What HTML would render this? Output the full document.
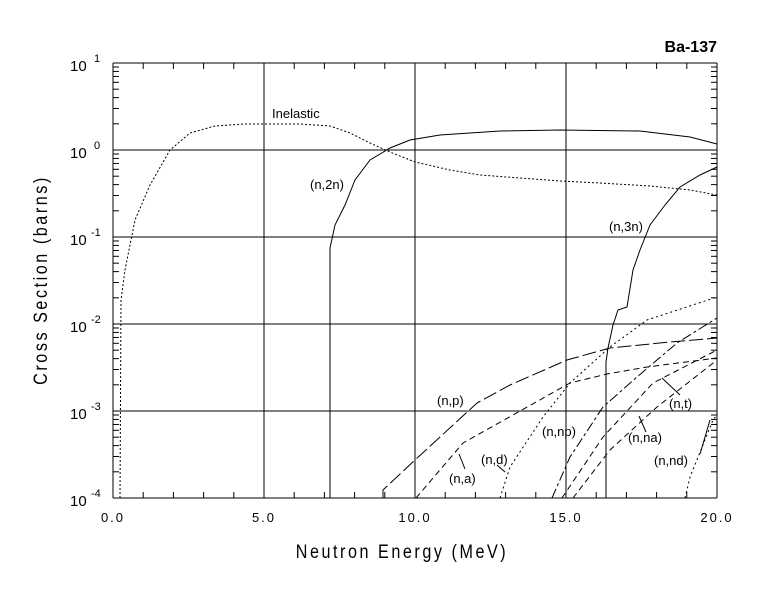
<!DOCTYPE html>
<html><head><meta charset="utf-8"><style>
body{margin:0;background:#fff}
svg text{font-family:"Liberation Sans",sans-serif;fill:#000}
</style></head><body>
<svg id="s" width="780" height="590" xmlns="http://www.w3.org/2000/svg">
<rect width="780" height="590" fill="#fff"/>
<g id="g" stroke="#000" stroke-width="1" fill="none"></g>
<g font-size="13">
<text x="113" y="522" text-anchor="middle" letter-spacing="2">0.0</text>
<text x="264" y="522" text-anchor="middle" letter-spacing="2">5.0</text>
<text x="415" y="522" text-anchor="middle" letter-spacing="2">10.0</text>
<text x="566" y="522" text-anchor="middle" letter-spacing="2">15.0</text>
<text x="717" y="522" text-anchor="middle" letter-spacing="2">20.0</text>
</g>
<g font-size="15">
<text x="70" y="71">10</text><text x="94" y="62" font-size="11">1</text>
<text x="70" y="158">10</text><text x="94" y="149" font-size="11">0</text>
<text x="70" y="245">10</text><text x="91" y="236" font-size="11">-1</text>
<text x="70" y="332">10</text><text x="91" y="323" font-size="11">-2</text>
<text x="70" y="419">10</text><text x="91" y="410" font-size="11">-3</text>
<text x="70" y="506">10</text><text x="91" y="497" font-size="11">-4</text>
</g>
<text x="402" y="558" font-size="19" text-anchor="middle" letter-spacing="3" transform="translate(402 0) scale(0.85 1) translate(-402 0)">Neutron Energy (MeV)</text>
<text transform="translate(47 280) rotate(-90) scale(0.85 1)" font-size="19" text-anchor="middle" letter-spacing="3">Cross Section (barns)</text>
<text x="717" y="52" font-size="16" font-weight="bold" text-anchor="end">Ba-137</text>
<g font-size="13">
<text x="272" y="118">Inelastic</text>
<text x="310" y="189">(n,2n)</text>
<text x="609" y="231">(n,3n)</text>
<text x="437" y="405">(n,p)</text>
<text x="449" y="483">(n,a)</text>
<text x="481" y="464">(n,d)</text>
<text x="542" y="436">(n,np)</text>
<text x="628" y="442">(n,na)</text>
<text x="669" y="408">(n,t)</text>
<text x="654" y="465">(n,nd)</text>
</g>
<g stroke="#000" stroke-width="1">
<line x1="459" y1="454" x2="465" y2="469"/>
<line x1="497" y1="465" x2="505" y2="472"/>
<line x1="639" y1="416" x2="646" y2="432"/>
<line x1="662" y1="378" x2="680" y2="395"/>
<line x1="710" y1="420" x2="700" y2="454"/>
</g>
</svg>
<script>
var g=document.getElementById('g'),NS='http://www.w3.org/2000/svg';
function L(a,b,c,d){var e=document.createElementNS(NS,'line');e.setAttribute('x1',a);e.setAttribute('y1',b);e.setAttribute('x2',c);e.setAttribute('y2',d);g.appendChild(e);}
function P(pts,dash){var e=document.createElementNS(NS,'polyline');e.setAttribute('points',pts);if(dash)e.setAttribute('stroke-dasharray',dash);g.appendChild(e);}
var x0=113,x1=717,y0=63,y1=498;
L(x0,y0,x1,y0);L(x0,y1,x1,y1);L(x0,y0,x0,y1);L(x1,y0,x1,y1);
for(var i=1;i<4;i++){L(113+151*i,y0,113+151*i,y1);}
for(var d=1;d<5;d++)L(x0,63+87*d,x1,63+87*d);
for(var m=1;m<20;m++){var x=113+30.2*m;L(x,y0,x,y0+6);L(x,y1,x,y1-6);}
for(var d=0;d<5;d++)for(var k=2;k<10;k++){var y=150+87*d-87*Math.log10(k);L(x0,y,x0+6,y);L(x1,y,x1-6,y);}
P("120,498 121,300 125,270 135,220 150,185 170,150 190,133 215,126 245,124 300,124 330,126 350,133 370,143 390,152 415,162 450,170 480,175 520,178 560,181 600,183 650,186 690,190 717,195","2,2");
P("330,498 330,248 335,225 345,205 355,180 370,160 390,148 410,140 440,135 500,131 560,130 640,131 690,137 717,144");
P("606,498 606,362 608,348 613,325 618,310 627,307 633,270 640,250 650,225 665,205 680,187 700,175 717,167");
P("383,498 383,490 415,460 477,403 510,385 567,360 610,348 670,342 717,338","14,4");
P("416,498 463,443 570,383 607,374 647,367 717,358","6,4");
P("500,498 510,467 543,417 570,383 610,347 647,320 717,297","2,3");
P("552,498 570,457 603,407 637,377 677,343 717,318","10,3,3,3");
P("562,498 603,437 653,383 717,350","6,4");
P("573,498 610,450 657,407 717,360","6,4");
P("685,498 690,477 713,420 717,415","2,3");
</script>
</body></html>
